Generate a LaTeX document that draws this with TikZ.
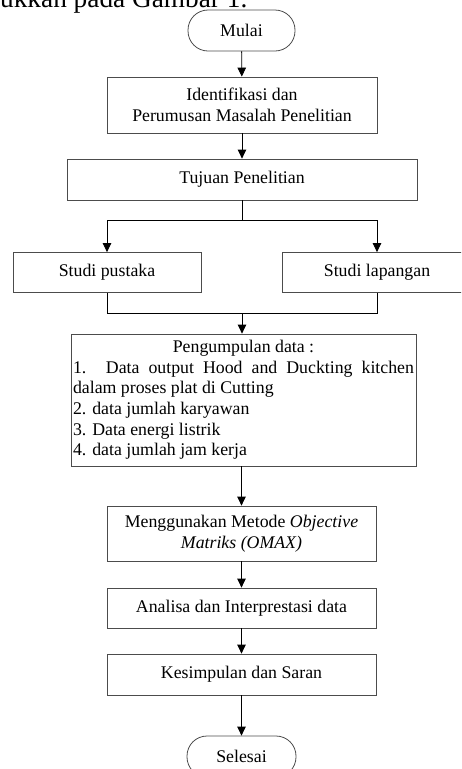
\documentclass[tikz,border=0pt]{standalone}
\usepackage{fontspec}
\setmainfont{Liberation Serif}
\usetikzlibrary{arrows.meta}
\begin{document}
\begin{tikzpicture}[x=1pt,y=-1pt,
  every node/.style={font=\fontsize{17.8}{20.6}\selectfont},
  procbox/.style={draw=black!70,line width=0.8pt,rectangle,inner sep=2pt,align=center,minimum height=#1},
  procbox/.default=41pt,
  termbox/.style={draw=black!70,line width=0.8pt,rectangle,rounded corners=20pt,minimum width=108pt,minimum height=41pt},
  conn/.style={line width=0.8pt,black},
  arr/.style={conn,-{Triangle[width=8.5pt,length=9pt]}}]
\useasboundingbox (0,0) rectangle (461,769);
\clip (0,0) rectangle (461,769);
\node[anchor=base west,inner sep=0pt,font=\fontsize{27.3}{30}\selectfont] (hdr) at (0,7.5) {ukkan pada Gambar 1.};
\node[termbox,minimum width=107pt] (mulai) at (241.5,30.5) {Mulai};
\node[procbox=56pt,minimum width=270pt] (ident) at (242,105) {Identifikasi dan\\Perumusan Masalah Penelitian};
\node[procbox,minimum width=350pt] (tujuan) at (242,179.5) {Tujuan Penelitian};
\node[procbox=40pt,minimum width=188pt] (pustaka) at (107,272.5) {Studi pustaka};
\node[procbox=40pt,minimum width=190pt] (lapangan) at (377,272.5) {Studi lapangan};
\node[draw=black!70,line width=0.8pt,rectangle,minimum width=345pt,minimum height=132pt,text width=341pt,inner sep=2pt,align=justify] (kumpul) at (243.5,400)
  {\hspace*{\fill}Pengumpulan data :\hspace*{\fill}\\1. Data output Hood and Duckting kitchen\linebreak dalam proses plat di Cutting\\2. data jumlah karyawan\\3. Data energi listrik\\4. data jumlah jam kerja};
\node[procbox=55pt,minimum width=269pt] (omax) at (241.5,533.5) {Menggunakan Metode \textit{Objective}\\\textit{Matriks (OMAX)}};
\node[procbox=40pt,minimum width=269pt] (analisa) at (241.5,608) {Analisa dan Interprestasi data};
\node[procbox,minimum width=269pt] (simpul) at (241.5,674.5) {Kesimpulan dan Saran};
\node[termbox,minimum width=109pt] (selesai) at (241.5,756.5) {Selesai};
\coordinate (split) at (242,220);
\coordinate (join) at (242,313);
\draw[arr] (mulai) -- (ident);
\draw[arr] (ident) -- (tujuan);
\draw[conn] (tujuan) -- (split);
\draw[arr] (split) -| (pustaka);
\draw[arr] (split) -| (lapangan);
\draw[conn] (pustaka) |- (join);
\draw[conn] (lapangan) |- (join);
\draw[arr] (join) -- (kumpul.north -| join);
\draw[arr] (kumpul.south -| omax) -- (omax);
\draw[arr] (omax) -- (analisa);
\draw[arr] (analisa) -- (simpul);
\draw[arr] (simpul) -- (selesai);
\end{tikzpicture}
\end{document}
